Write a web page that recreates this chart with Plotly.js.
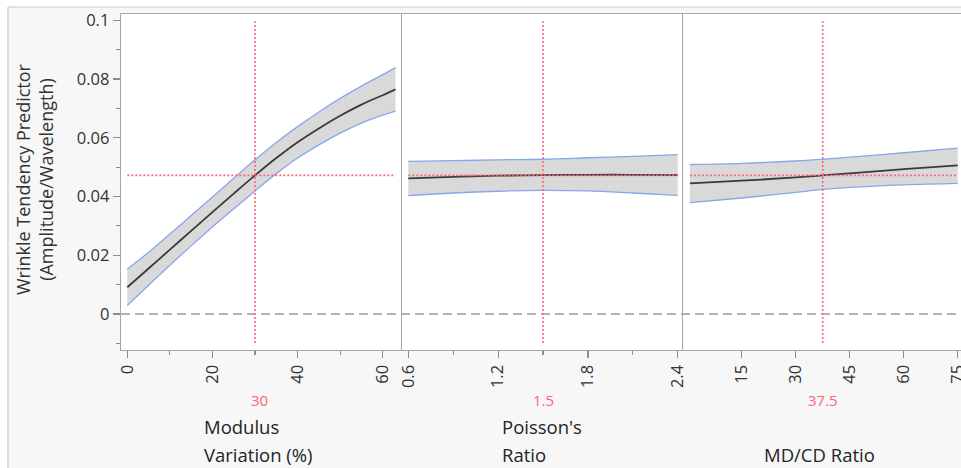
<!DOCTYPE html>
<html>
<head>
<meta charset="utf-8">
<script src="https://cdn.plot.ly/plotly-3.0.1.min.js"></script>
<style>html,body{margin:0;padding:0;background:#fff;overflow:hidden;}#chart{width:990px;height:468px;}</style>
</head>
<body>
<div id="chart"></div>
<script>
// ---- data ----
const modulusX     = [0, 5, 10, 15, 20, 25, 30, 35, 40, 45, 50, 55, 60, 63];
const modulusPred  = [0.0091, 0.0155, 0.0219, 0.0283, 0.0347, 0.0410, 0.0472, 0.0531, 0.0585, 0.0632, 0.0675, 0.0713, 0.0745, 0.0765];
const modulusUpper = [0.0153, 0.0210, 0.0272, 0.0335, 0.0398, 0.0462, 0.0525, 0.0584, 0.0638, 0.0688, 0.0734, 0.0776, 0.0815, 0.0839];
const modulusLower = [0.0029, 0.0098, 0.0166, 0.0232, 0.0296, 0.0358, 0.0419, 0.0478, 0.0531, 0.0576, 0.0616, 0.0650, 0.0677, 0.0691];

const poissonX     = [0.6, 0.9, 1.2, 1.5, 1.8, 2.1, 2.4];
const poissonPred  = [0.0462, 0.0467, 0.0471, 0.0473, 0.0474, 0.0474, 0.0473];
const poissonUpper = [0.0520, 0.0522, 0.0525, 0.0527, 0.0532, 0.0537, 0.0543];
const poissonLower = [0.0403, 0.0412, 0.0418, 0.0421, 0.0419, 0.0412, 0.0404];

const mdcdX        = [0.6, 15, 30, 37.5, 45, 60, 75];
const mdcdPred     = [0.0445, 0.0454, 0.0465, 0.0472, 0.0479, 0.0493, 0.0506];
const mdcdUpper    = [0.0509, 0.0513, 0.0521, 0.0527, 0.0534, 0.0549, 0.0565];
const mdcdLower    = [0.0379, 0.0395, 0.0414, 0.0424, 0.0431, 0.0440, 0.0445];

const currentValues   = [30, 1.5, 37.5];
const currentLabels   = ['30', '1.5', '37.5'];
const currentPred     = 0.0472;

const yTickVals   = [0, 0.02, 0.04, 0.06, 0.08, 0.1];
const yTickText   = ['0', '0.02', '0.04', '0.06', '0.08', '0.1'];
const x1TickVals  = [0, 20, 40, 60];
const x1TickText  = ['0', '20', '40', '60'];
const x2TickVals  = [0.6, 1.2, 1.8, 2.4];
const x2TickText  = ['0.6', '1.2', '1.8', '2.4'];
const x3TickVals  = [15, 30, 45, 60, 75];
const x3TickText  = ['15', '30', '45', '60', '75'];

const factorNames = [['Modulus', 'Variation (%)'], ["Poisson's", 'Ratio'], ['', 'MD/CD Ratio']];

// ---- styling ----
// the figure is a little wider than the 961px window so that the last panel runs off the edge, as in the reference
const W = 990, H = 468;
const FONT = '"Open Sans", "Noto Sans", sans-serif';
const px = v => v / W;
const py = v => 1 - v / H;
const bandFill = '#d9d9d9', bandLine = '#86a8ea', predLine = '#3a3a3a';
const redC = '#ff6476', frameC = '#a6a6a6', tickC = '#8c8c8c';

const panels = [
  {x: modulusX, p: modulusPred, u: modulusUpper, l: modulusLower, xa: 'x',  ya: 'y'},
  {x: poissonX, p: poissonPred, u: poissonUpper, l: poissonLower, xa: 'x2', ya: 'y2'},
  {x: mdcdX,    p: mdcdPred,    u: mdcdUpper,    l: mdcdLower,    xa: 'x3', ya: 'y3'}
];

const traces = [];
panels.forEach(pn => {
  traces.push({x: pn.x, y: pn.l, xaxis: pn.xa, yaxis: pn.ya, mode: 'lines',
    line: {color: bandLine, width: 1.3, shape: 'spline'}, hoverinfo: 'skip', showlegend: false});
  traces.push({x: pn.x, y: pn.u, xaxis: pn.xa, yaxis: pn.ya, mode: 'lines', fill: 'tonexty',
    fillcolor: bandFill, line: {color: bandLine, width: 1.3, shape: 'spline'}, hoverinfo: 'skip', showlegend: false});
  traces.push({x: pn.x, y: pn.p, xaxis: pn.xa, yaxis: pn.ya, mode: 'lines',
    line: {color: predLine, width: 1.8, shape: 'spline'}, showlegend: false});
});

const plotTop = 14, plotBot = 350;
const yDomain = [1 - plotBot / H, 1 - plotTop / H];
const xDomains = [[px(121), px(402)], [px(402), px(683)], [px(683), px(980)]];
const yRange = [-0.01226, 0.10215];

const tickFont = {family: FONT, size: 16.5, color: '#333'};

function xaxisDef(i, range, tv, tt, minor) {
  const a = {
    domain: xDomains[i], range: range, anchor: i === 0 ? 'y' : 'y' + (i + 1),
    showline: true, linecolor: frameC, linewidth: 1.3, mirror: true,
    ticks: 'outside', ticklen: 7, tickwidth: 1.2, tickcolor: tickC,
    tickvals: tv, ticktext: tt, tickangle: -90, tickfont: tickFont,
    showgrid: false, zeroline: false, fixedrange: true
  };
  if (minor) a.minor = Object.assign({ticks: 'outside', ticklen: 4, tickwidth: 1.2, tickcolor: tickC, showgrid: false}, minor);
  return a;
}
function yaxisDef(i) {
  const a = {
    domain: yDomain, range: yRange, anchor: i === 0 ? 'x' : 'x' + (i + 1),
    showline: true, linecolor: frameC, linewidth: 1.3,
    showgrid: false, zeroline: false, fixedrange: true
  };
  if (i === 0) {
    Object.assign(a, {ticks: 'outside', ticklen: 7, tickwidth: 1.2, tickcolor: tickC,
      tickvals: yTickVals, ticktext: yTickText, tickfont: tickFont,
      minor: {ticks: 'outside', ticklen: 4, tickwidth: 1.2, tickcolor: tickC, dtick: 0.01, tick0: 0, showgrid: false}});
  } else {
    Object.assign(a, {ticks: '', showticklabels: false});
  }
  return a;
}

const shapes = [
  // outer frame of the report panel
  {type: 'rect', xref: 'paper', yref: 'paper', x0: 0, x1: px(8), y0: 0, y1: 1, fillcolor: '#ffffff', line: {width: 0}, layer: 'below'},
  {type: 'rect', xref: 'paper', yref: 'paper', x0: 0, x1: 1, y0: py(7), y1: 1, fillcolor: '#ffffff', line: {width: 0}, layer: 'below'},
  {type: 'line', xref: 'paper', yref: 'paper', x0: px(8), x1: px(8), y0: 0, y1: py(7), line: {color: '#c9c9c9', width: 1.2}},
  {type: 'line', xref: 'paper', yref: 'paper', x0: px(8), x1: 1, y0: py(7), y1: py(7), line: {color: '#c9c9c9', width: 1.2}},
  // zero reference line
  {type: 'line', xref: 'paper', yref: 'y', x0: px(121), x1: px(980), y0: 0, y1: 0, line: {color: '#9a9a9a', width: 1.5, dash: '9px,5px'}}
];
panels.forEach((pn, i) => {
  const ya = i === 0 ? 'y' : 'y' + (i + 1);
  shapes.push({type: 'line', xref: pn.xa, yref: ya, x0: currentValues[i], x1: currentValues[i], y0: -0.0099, y1: 0.0997,
    line: {color: redC, width: 1.6, dash: '2px,2px'}, layer: 'above'});
  shapes.push({type: 'line', xref: pn.xa, yref: ya, x0: pn.x[0], x1: pn.x[pn.x.length - 1], y0: currentPred, y1: currentPred,
    line: {color: redC, width: 1.6, dash: '2px,2px'}, layer: 'above'});
});

const annotations = [
  {xref: 'paper', yref: 'paper', x: px(34), y: py(179), text: 'Wrinkle Tendency Predictor<br>(Amplitude/Wavelength)',
   textangle: -90, showarrow: false, xanchor: 'center', yanchor: 'middle', font: {family: FONT, size: 18, color: '#333'}}
];
const nameLeft = [202, 500, 762];
panels.forEach((pn, i) => {
  annotations.push({xref: pn.xa, yref: 'paper', x: currentValues[i], y: py(400), text: currentLabels[i], showarrow: false,
    xanchor: 'center', yanchor: 'middle', xshift: i === 0 ? 4 : 0, font: {family: FONT, size: 15, color: redC}});
  factorNames[i].forEach((t, j) => {
    if (!t) return;
    annotations.push({xref: 'paper', yref: 'paper', x: px(nameLeft[i]), y: py(j === 0 ? 426 : 454), text: t, showarrow: false,
      xanchor: 'left', yanchor: 'middle', font: {family: FONT, size: 18.5, color: '#242424'}});
  });
});

// panel-3 scale: 0 at 687.7px, 3.6px per unit
const layout = {
  width: W, height: H, margin: {l: 0, r: 0, t: 0, b: 0, pad: 0},
  paper_bgcolor: '#f7f7f7', plot_bgcolor: '#ffffff',
  font: {family: FONT, color: '#333'},
  showlegend: false,
  xaxis:  xaxisDef(0, [-1.48, 64.53], x1TickVals, x1TickText, {dtick: 10, tick0: 0}),
  xaxis2: xaxisDef(1, [0.5579, 2.4354], x2TickVals, x2TickText, {dtick: 0.3, tick0: 0.6}),
  xaxis3: xaxisDef(2, [-1.31, 81.19], x3TickVals, x3TickText, null),
  yaxis:  yaxisDef(0),
  yaxis2: yaxisDef(1),
  yaxis3: yaxisDef(2),
  shapes: shapes,
  annotations: annotations
};

Plotly.newPlot('chart', traces, layout, {staticPlot: true, displayModeBar: false});
</script>
</body>
</html>
